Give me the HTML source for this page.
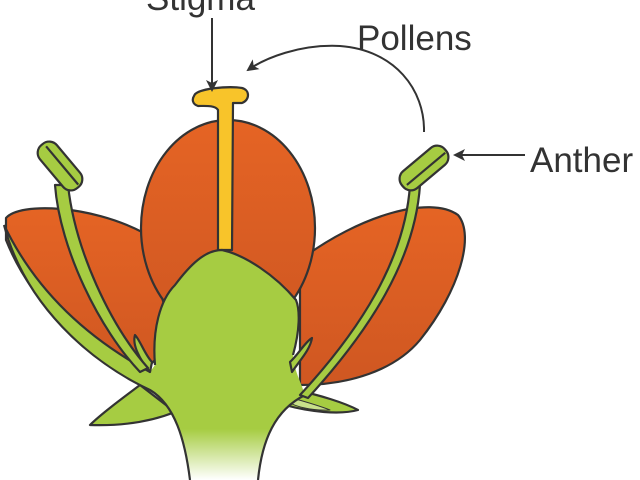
<!DOCTYPE html>
<html><head><meta charset="utf-8"><style>
html,body{margin:0;padding:0;background:#fff;}
svg{display:block}
text{font-family:"Liberation Sans",sans-serif;font-size:35px;fill:#333;}
</style></head><body>
<svg width="640" height="480" viewBox="0 0 640 480" xmlns="http://www.w3.org/2000/svg">
<defs>
<linearGradient id="pet" x1="0" y1="0" x2="0" y2="1">
<stop offset="0" stop-color="#e56424"/><stop offset="1" stop-color="#cf5722"/>
</linearGradient>
<linearGradient id="stem" x1="0" y1="0" x2="0" y2="1">
<stop offset="0.8" stop-color="#a6cc42"/><stop offset="1" stop-color="#ffffff"/>
</linearGradient>
<marker id="ah" markerWidth="12" markerHeight="12" refX="10" refY="6" orient="auto" markerUnits="userSpaceOnUse">
<path d="M0,0 L12,6 L0,12 L3,6 Z" fill="#333"/>
</marker>
</defs>
<g stroke="#333" stroke-width="2.2" stroke-linejoin="round">
<path d="M6,218 C20,202 90,205 142,232 L175,340 L140,375 C80,350 30,300 6,240 Z" fill="url(#pet)"/>
<path d="M300,260 C360,215 430,195 458,215 C475,235 460,290 420,340 C395,370 350,385 300,385 Z" fill="url(#pet)"/>
<ellipse cx="228" cy="228" rx="87" ry="108" fill="url(#pet)"/>
<path d="M194,96 C196,88 230,86 242,88 C250,90 250,100 242,103 L233,103 L232,250 L218,250 L218,110 C215,105 205,106 198,106 C192,104 192,99 194,96 Z" fill="#f8c42a"/>
<path d="M140,385 C120,400 100,415 90,425 C120,426 150,422 175,412 Z" fill="#a6cc42"/>
<path d="M295,390 C320,395 345,403 358,410 C340,415 310,412 285,405 Z" fill="#a6cc42"/>
<path d="M292,398 C310,403 325,408 330,410 C310,411 295,406 288,402 Z" fill="#c8e08a" stroke-width="1"/>
<path d="M4,225 C25,305 90,362 150,390 C175,405 185,440 190,480 L258,480 C262,440 275,410 305,395 C300,380 294,370 293,355 C300,330 300,310 296,300 C275,275 245,255 222,250 C205,250 190,265 175,285 C160,300 152,330 155,365 L150,372 C100,345 40,300 4,225 Z" fill="url(#stem)" stroke="none"/>
<path d="M4,225 C25,305 90,362 150,390 C175,405 185,440 190,480 M258,480 C262,440 275,410 305,395 M293,355 C300,330 300,310 296,300 C275,275 245,255 222,250 C205,250 190,265 175,285 C160,300 152,330 155,365 M4,225 C40,300 100,345 150,372" fill="none"/>
<path d="M150,372 C140,360 132,345 135,335 C140,340 145,355 152,362 Z" fill="#a6cc42"/>
<path d="M292,372 C300,360 310,350 312,338 C305,342 298,355 290,362 Z" fill="#a6cc42"/>
<path d="M55,185 C60,250 100,330 140,372 L148,368 C110,325 75,250 68,185 Z" fill="#a6cc42"/>
<g transform="translate(60,166) rotate(50)">
<rect x="-28" y="-11" width="56" height="22" rx="10" fill="#a6cc42"/>
<line x1="-24" y1="-2" x2="26" y2="-2"/>
</g>
<path d="M410,185 C405,260 360,330 300,395 L308,398 C370,330 415,260 420,185 Z" fill="#a6cc42"/>
<g transform="translate(424,168) rotate(-40)">
<rect x="-28" y="-11" width="56" height="22" rx="10" fill="#a6cc42"/>
<line x1="-24" y1="2" x2="26" y2="2"/>
</g>
</g>
<g stroke="#333" stroke-width="2" fill="none">
<line x1="212" y1="18" x2="212" y2="90" marker-end="url(#ah)"/>
<path d="M424,132 C425,90 395,50 340,46 C300,44 265,58 248,70" marker-end="url(#ah)"/>
<line x1="525" y1="155" x2="455" y2="155" marker-end="url(#ah)"/>
</g>
<text x="146" y="10">Stigma</text>
<text x="357" y="50">Pollens</text>
<text x="530" y="172">Anther</text>
</svg>
</body></html>
